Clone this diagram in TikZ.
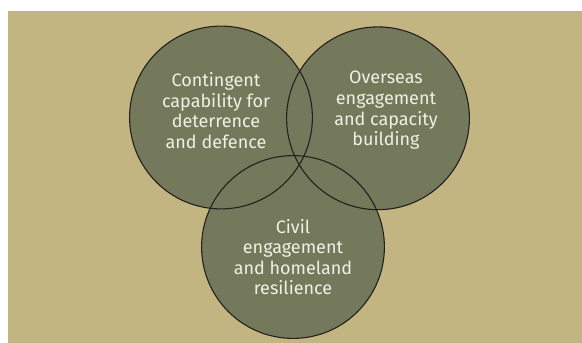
\documentclass[tikz,border=0pt]{standalone}
\usepackage{fontspec}
\setmainfont{Fira Sans}
\definecolor{sandbg}{RGB}{194,181,130}
\definecolor{sagefill}{RGB}{116,121,91}
\definecolor{ringline}{RGB}{35,32,30}
\definecolor{labeltext}{RGB}{240,240,228}
\tikzset{
  ringlabel/.style={text=labeltext,align=center,inner sep=0pt,
    font=\fontsize{18}{20.6}\selectfont}
}
\begin{document}
\begin{tikzpicture}[x=1pt,y=-1pt]
  \useasboundingbox (0,0) rectangle (582,343);
  \fill[sandbg] (8,11) rectangle (582,343);

  \coordinate (defence) at (221,117.5);
  \coordinate (overseas) at (378,118.3);
  \coordinate (civil) at (293,247);

  % fills first, outlines after
  \foreach \c in {defence,overseas,civil}
    \fill[sagefill] (\c) circle[radius=91.4];
  \foreach \c in {defence,overseas,civil}
    \draw[ringline,line width=1.1pt] (\c) circle[radius=91.4];

  \node[ringlabel] (defencetext) at (216,110.5) {Contingent\\capability for\\deterrence\\and defence};
  \node[ringlabel] (overseastext) at (386,110.5) {Overseas\\engagement\\and capacity\\building};
  \node[ringlabel] (civiltext) at (293,257) {Civil\\engagement\\and homeland\\resilience};
\end{tikzpicture}
\end{document}
